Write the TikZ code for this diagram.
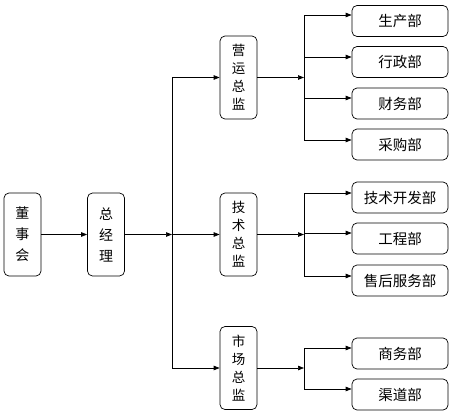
\documentclass[tikz,border=0pt]{standalone}
\usepackage{fontspec}
\newfontfamily\cjk{Noto Sans CJK SC}
\usetikzlibrary{arrows.meta}
\tikzset{
  unit/.style={rectangle,draw,line width=0.7pt,rounded corners=5pt,inner sep=0pt,
               font=\cjk\fontsize{14}{21}\selectfont,align=center},
  top/.style={unit,minimum width=37pt,minimum height=83pt},
  chief/.style={unit,minimum width=37pt,minimum height=83pt,font=\cjk\fontsize{13.5}{18}\selectfont},
  dept/.style={unit,minimum width=96pt,minimum height=31pt,font=\cjk\fontsize{14.5}{18}\selectfont},
  link/.style={line width=0.7pt},
  arr/.style={link,-{Triangle[length=6pt,width=4.5pt]}},
}
\begin{document}
\begin{tikzpicture}[x=1pt,y=-1pt]
  \useasboundingbox (0,0) rectangle (457,415);
  % board and general manager
  \node[top] (board) at (22.5,234.5) {董\\事\\会};
  \node[top] (gm) at (106,234.5) {总\\经\\理};
  % directors
  \node[chief] (ops) at (238.5,77.5) {营\\运\\总\\监};
  \node[chief] (tech) at (238.5,234.5) {技\\术\\总\\监};
  \node[chief] (mkt) at (238.5,368) {市\\场\\总\\监};
  % departments
  \node[dept] (prod) at (400,21) {生产部};
  \node[dept] (adm) at (400,62) {行政部};
  \node[dept] (fin) at (400,103.5) {财务部};
  \node[dept] (buy) at (400,144.5) {采购部};
  \node[dept] (rnd) at (400,197.5) {技术开发部};
  \node[dept] (eng) at (400,238.5) {工程部};
  \node[dept] (svc) at (400,280.5) {售后服务部};
  \node[dept] (biz) at (400,353.5) {商务部};
  \node[dept] (chan) at (400,394.5) {渠道部};
  % junction points
  \coordinate (mj) at (172,234.5);
  \coordinate (ja) at (304,15);
  \coordinate (jb) at (304,57);
  \coordinate (jc) at (304,98);
  \coordinate (jd) at (304,140);
  \coordinate (je) at (304,193);
  \coordinate (jf) at (304,233);
  \coordinate (jg) at (304,276);
  \coordinate (jh) at (304,348);
  \coordinate (ji) at (304,389);
  % connectors
  \draw[arr] (board) -- (gm);
  \draw[arr] (gm) -- (gm -| mj);
  \draw[link] (mj |- ops) -- (mj |- mkt);
  \foreach \d in {ops,tech,mkt}
    \draw[arr] (mj |- \d) -- (\d);
  \draw[arr] (ops) -- (ops -| ja);
  \draw[arr] (tech) -- (tech -| ja);
  \draw[arr] (mkt) -- (mkt -| ja);
  \draw[link] (ja) -- (jd);
  \draw[link] (je) -- (jg);
  \draw[link] (jh) -- (ji);
  \foreach \j/\d in {ja/prod,jb/adm,jc/fin,jd/buy,je/rnd,jf/eng,jg/svc,jh/biz,ji/chan}
    \draw[arr] (\j) -- (\d.west |- \j);
\end{tikzpicture}
\end{document}
